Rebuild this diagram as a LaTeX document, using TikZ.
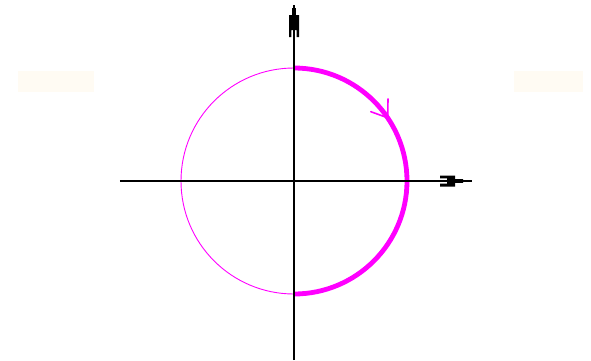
\documentclass[tikz,border=0pt]{standalone}
\usetikzlibrary{calc}
\definecolor{mag}{RGB}{255,0,255}
\definecolor{cream}{RGB}{255,251,243}
\tikzset{
  axisline/.style={line width=1.4pt, black},
  axistip/.style={fill=black, draw=none},
  thincirc/.style={mag, line width=0.9pt},
  thickarc/.style={mag, line width=4.8pt},
  arcbarb/.style={mag, line width=1.6pt, line cap=round},
  blankbox/.style={fill=cream, draw=none}
}
\begin{document}
\begin{tikzpicture}[x=1pt,y=1pt]
\useasboundingbox (-294,-179) rectangle (297,181);
\coordinate (O) at (0,0);
% pale boxes
\fill[blankbox] (-276,89) rectangle (-200,110);
\fill[blankbox] (220,89) rectangle (289,110);
% circle
\draw[thincirc] (O) circle[radius=113];
\draw[thickarc] (0,113) arc[start angle=90, end angle=-90, radius=113];
% axes
\coordinate (xl) at (-174,0);
\coordinate (xr) at (178,0);
\coordinate (yb) at (0,-179);
\coordinate (yt) at (0,176);
\draw[axisline] (xl) -- (xr);
\draw[axisline] (yb) -- (yt);
% axis tips
\fill[axistip] (0,173) -- (1.8,173) -- (1.8,166) -- (5,166) -- (5,144) -- (2.6,144) -- (2.6,151) -- (-2.6,151) -- (-2.6,144) -- (-5,144) -- (-5,166) -- (-1.8,166) -- (-1.8,173) -- cycle;
\fill[axistip] (169,0) -- (169,1.8) -- (161,1.8) -- (161,5.5) -- (146,5.5) -- (146,2.6) -- (153,2.6) -- (153,-2.6) -- (146,-2.6) -- (146,-5.5) -- (161,-5.5) -- (161,-1.8) -- (169,-1.8) -- cycle;
% arrow on arc
\coordinate (T) at (34:113);
\draw[arcbarb] (T) -- ++(89:19);
\draw[arcbarb] (T) -- ++(160:18);
\end{tikzpicture}
\end{document}
